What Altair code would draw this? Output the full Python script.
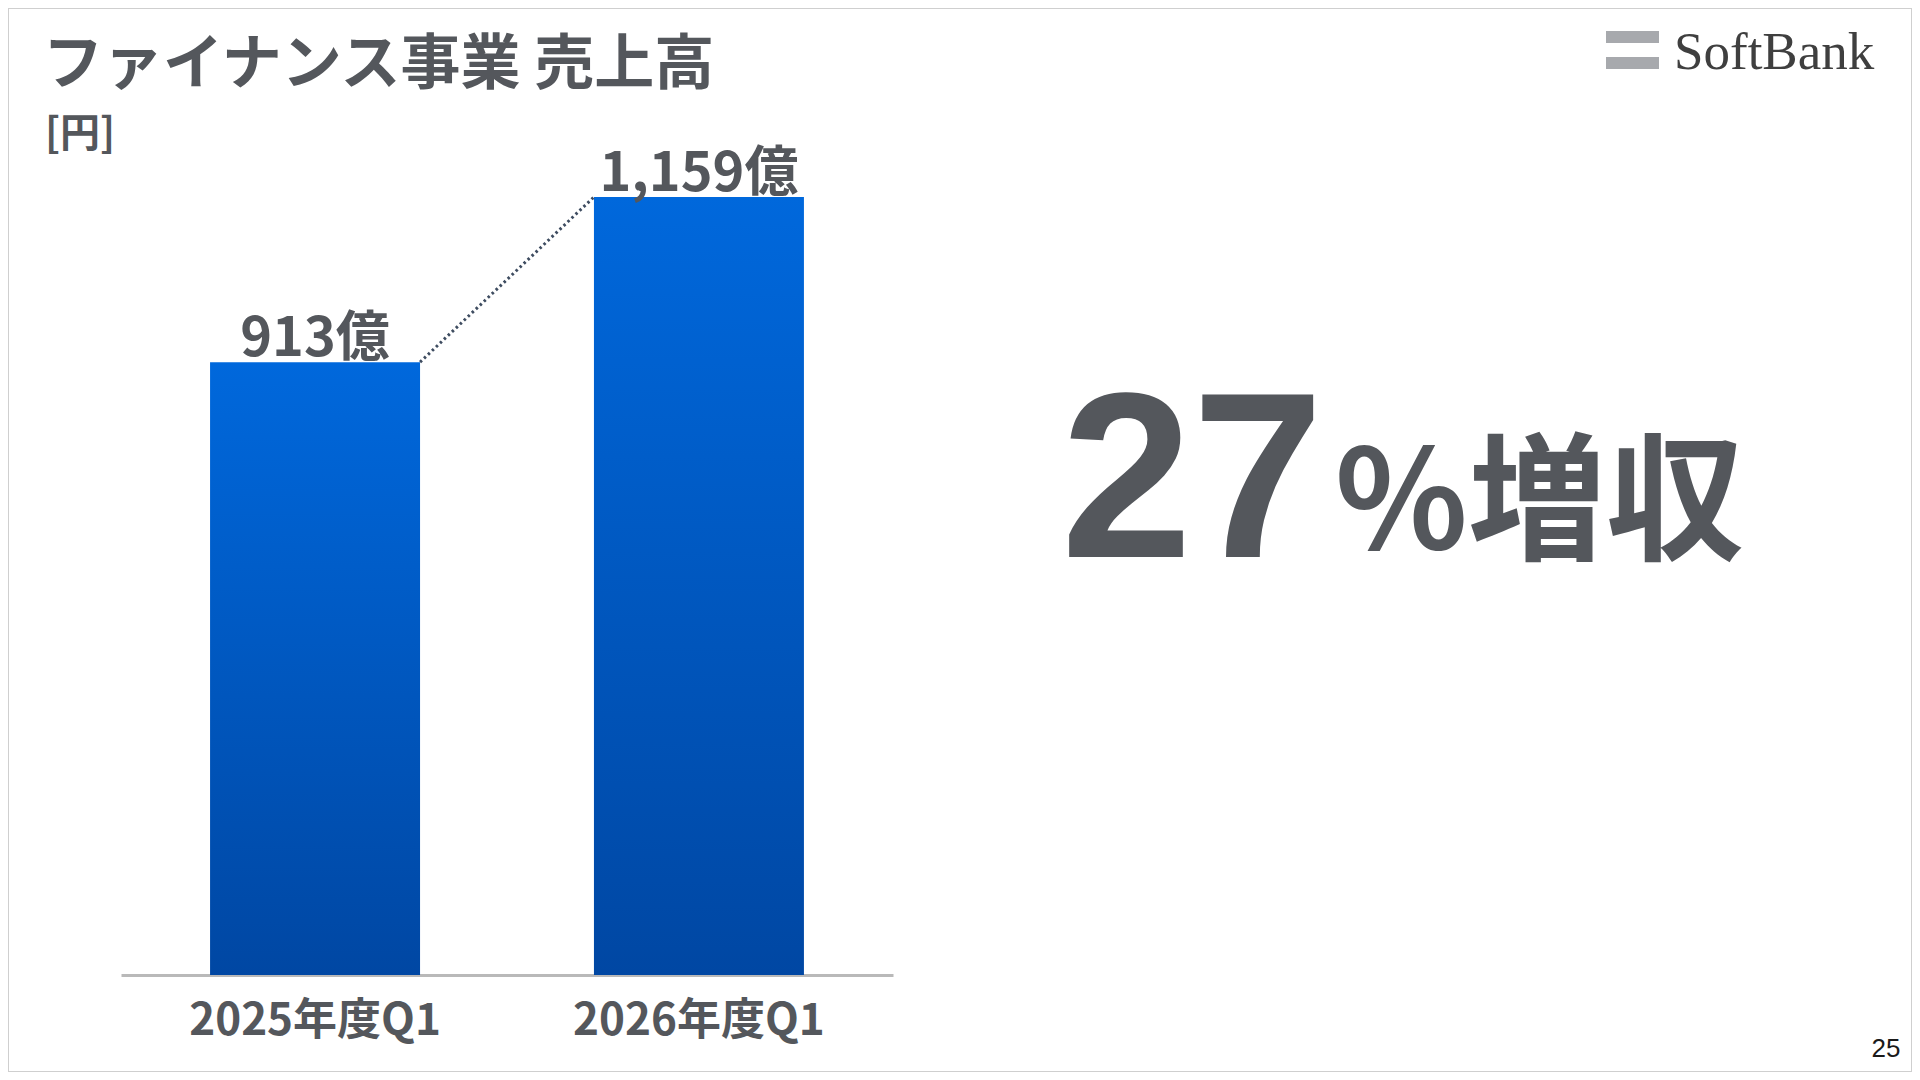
import altair as alt
import pandas as pd

# ---- data ----
categories = ["2025年度Q1", "2026年度Q1"]
values = [913, 1159]
value_labels = ["913億", "1,159億"]
title_text = "ファイナンス事業 売上高"
unit_text = "[円]"
growth_number = "27"
growth_suffix = "%増収"
logo_text = "SoftBank"
page_number = "25"

W, H = 1904, 1064
TEXT = "#54575C"
JP = "Noto Sans CJK JP"

df = pd.DataFrame({"cat": categories, "value": values, "label": value_labels})
link = pd.DataFrame({
    "from_cat": [categories[0]], "to_cat": [categories[1]],
    "from_v": [values[0]], "to_v": [values[1]],
})

xscale = alt.Scale(domain=categories, range=[113, 885], paddingInner=0.453, paddingOuter=0.232)
yscale = alt.Scale(domain=[0, values[1]], range=[967, 189], nice=False, zero=True)

grad = alt.Gradient(
    gradient="linear", x1=0, x2=0, y1=0, y2=1,
    stops=[alt.GradientStop(color="#0068DC", offset=0),
           alt.GradientStop(color="#0047A3", offset=1)],
)

xaxis = alt.Axis(title=None, labelAngle=0, labelFont=JP, labelFontSize=44,
                 labelFontWeight="bold", labelColor=TEXT, domainColor="#B9B9B9",
                 domainWidth=3, ticks=False, tickSize=0, labelPadding=59,
                 labelBaseline="alphabetic", labelLimit=600, grid=False, offset=-97)

bars = alt.Chart(df).mark_bar(color=grad).encode(
    x=alt.X("cat:N", scale=xscale, sort=categories, axis=xaxis),
    y=alt.Y("value:Q", scale=yscale, axis=None),
)

labels = alt.Chart(df).mark_text(
    font=JP, fontSize=54, fontWeight="bold", color=TEXT, baseline="alphabetic", dy=-6
).encode(
    x=alt.X("cat:N", scale=xscale, sort=categories, axis=xaxis),
    y=alt.Y("value:Q", scale=yscale, axis=None),
    text="label:N",
)

connector = alt.Chart(link).mark_rule(
    color="#3E4C60", strokeWidth=3, strokeDash=[2.5, 3]
).encode(
    x=alt.X("from_cat:N", bandPosition=1, scale=xscale, axis=xaxis),
    x2=alt.X2("to_cat", bandPosition=0),
    y=alt.Y("from_v:Q", scale=yscale, axis=None),
    y2=alt.Y2("to_v"),
)


def text_layer(s, x, y, **kw):
    return alt.Chart(pd.DataFrame({"t": [s]})).mark_text(**kw).encode(
        text="t:N", x=alt.value(x), y=alt.value(y))


def rect_layer(x, x2, y, y2, color):
    return alt.Chart(pd.DataFrame({"k": [0]})).mark_rect(color=color).encode(
        x=alt.value(x), x2=alt.value(x2), y=alt.value(y), y2=alt.value(y2))


title = text_layer(title_text, 35, 76, font=JP, fontSize=60, fontWeight="bold",
                   color=TEXT, align="left", baseline="alphabetic")
unit = text_layer(unit_text, 37, 139, font=JP, fontSize=40, fontWeight="bold",
                  color=TEXT, align="left", baseline="alphabetic")
num = text_layer(growth_number, 1053, 549, font="Liberation Sans", fontSize=236,
                 fontWeight="bold", color=TEXT, align="left", baseline="alphabetic")
suffix = text_layer(growth_suffix, 1327, 541, font=JP, fontSize=138, fontWeight="bold",
                    color=TEXT, align="left", baseline="alphabetic")
logo_r1 = rect_layer(1598, 1651, 23, 35, "#A7A9AD")
logo_r2 = rect_layer(1598, 1651, 49, 61, "#A7A9AD")
logo = text_layer(logo_text, 1666, 61, font="Liberation Serif", fontSize=53,
                  fontWeight="normal", color="#3F3F3F", align="left", baseline="alphabetic")
page = text_layer(page_number, 1878, 1049, font="Liberation Sans", fontSize=26,
                  color="#1A1A1A", align="center", baseline="alphabetic")

chart = alt.layer(
    bars, labels, connector, title, unit, num, suffix, logo_r1, logo_r2, logo, page
).properties(
    width=W, height=H, padding=0, autosize=alt.AutoSizeParams(type="none"),
    background="white",
).configure_view(stroke="#CFCFCF", strokeWidth=2)

chart.save("out.html", embed_options={"renderer": "svg", "actions": False})
